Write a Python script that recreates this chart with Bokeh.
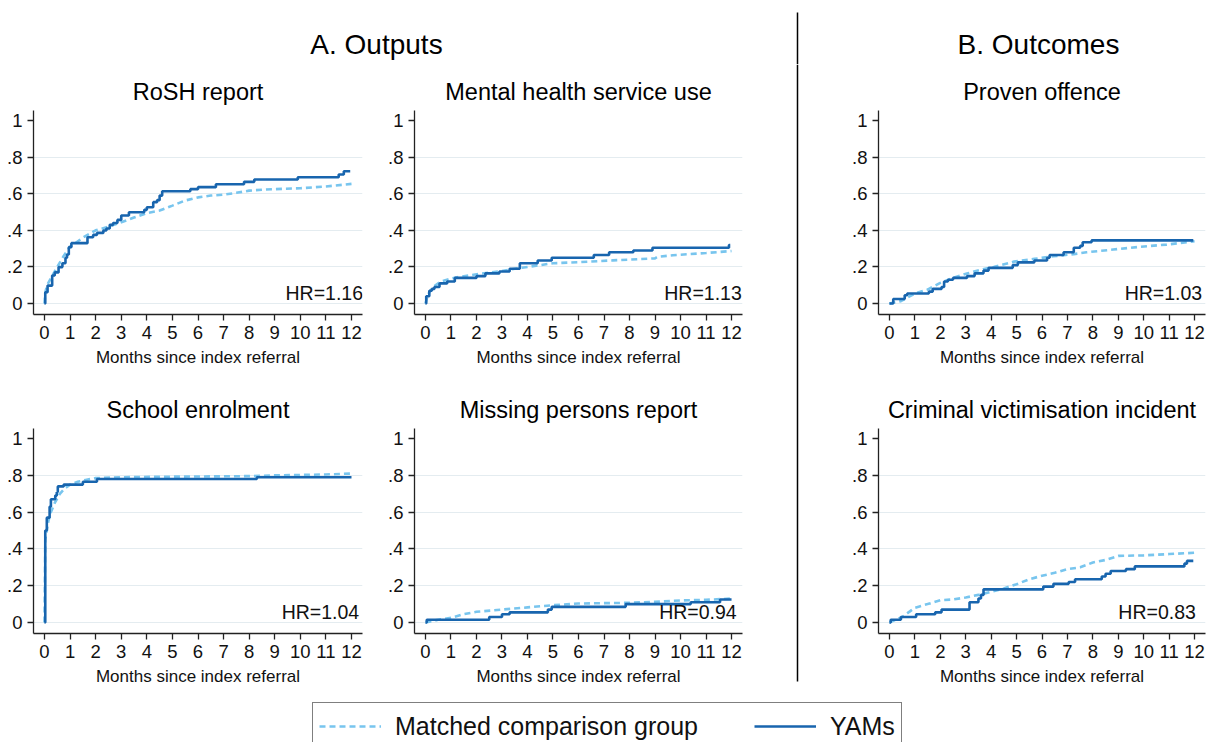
from bokeh.plotting import figure
from bokeh.layouts import column, row
from bokeh.models import Range1d, FixedTicker, Legend, LegendItem
from bokeh.core.properties import value
from bokeh.embed import file_html
from bokeh.resources import INLINE

# ---------------------------------------------------------------- data
SECTION_TITLES = ["A. Outputs", "B. Outcomes"]
PANEL_TITLES = ["RoSH report", "Mental health service use", "Proven offence",
                "School enrolment", "Missing persons report",
                "Criminal victimisation incident"]
HR_LABELS = ["HR=1.16", "HR=1.13", "HR=1.03", "HR=1.04", "HR=0.94", "HR=0.83"]
LEGEND_LABELS = ["Matched comparison group", "YAMs"]
X_AXIS_TITLE = "Months since index referral"
X_TICKS = list(range(0, 13))
Y_TICKS = [0, 0.2, 0.4, 0.6, 0.8, 1]
Y_TICK_LABELS = ["0", ".2", ".4", ".6", ".8", "1"]

# cumulative incidence, YAMs (step changes) and matched comparison group
ROSH_YAM_T = [0, 0.03, 0.12, 0.3, 0.4, 0.55, 0.7, 0.82, 0.88, 0.95, 1.05, 1.68, 1.9,
              2.05, 2.3, 2.42, 2.55, 2.68, 2.85, 3.0, 3.3, 3.9, 4.0, 4.25, 4.4, 4.5,
              4.6, 5.7, 6.0, 6.7, 7.8, 8.2, 9.9, 11.5, 11.7, 11.95]
ROSH_YAM_P = [0, 0.062, 0.098, 0.153, 0.17, 0.199, 0.22, 0.25, 0.268, 0.308, 0.33,
              0.362, 0.375, 0.386, 0.399, 0.41, 0.43, 0.44, 0.457, 0.481, 0.499,
              0.512, 0.526, 0.554, 0.565, 0.59, 0.614, 0.625, 0.636, 0.652, 0.665,
              0.678, 0.69, 0.705, 0.723, 0.723]
ROSH_CMP_T = [0, 0.03, 0.1, 0.3, 0.5, 0.75, 1.0, 1.5, 2.0, 2.5, 3.0, 3.5, 4.0, 4.5,
              5.0, 5.5, 6.0, 6.5, 7.0, 7.5, 8.0, 8.5, 9.0, 10.0, 11.0, 12.0]
ROSH_CMP_P = [0, 0.06, 0.1, 0.15, 0.2, 0.26, 0.31, 0.36, 0.4, 0.42, 0.444, 0.47,
              0.494, 0.508, 0.535, 0.563, 0.58, 0.59, 0.595, 0.605, 0.617, 0.622,
              0.625, 0.63, 0.64, 0.654]

MH_YAM_T = [0, 0.03, 0.15, 0.25, 0.35, 0.55, 0.85, 1.15, 2.0, 2.35, 2.9, 3.3, 3.7,
            4.4, 4.95, 6.6, 7.2, 8.15, 8.9, 11.9, 11.95]
MH_YAM_P = [0, 0.04, 0.07, 0.08, 0.09, 0.11, 0.12, 0.14, 0.15, 0.165, 0.175, 0.19,
            0.22, 0.235, 0.25, 0.265, 0.28, 0.29, 0.305, 0.32, 0.32]
MH_CMP_T = [0, 0.1, 0.3, 0.6, 1.0, 1.3, 2.1, 3.0, 3.5, 4.0, 5.0, 6.0, 7.35, 8.0,
            9.0, 9.1, 9.7, 11.0, 12.0]
MH_CMP_P = [0, 0.05, 0.09, 0.12, 0.137, 0.145, 0.162, 0.178, 0.19, 0.2, 0.22,
            0.226, 0.236, 0.24, 0.247, 0.255, 0.264, 0.276, 0.287]

OFF_YAM_T = [0, 0.15, 0.6, 0.7, 1.55, 1.7, 2.05, 2.15, 2.3, 2.5, 3.05, 3.35, 3.7,
             3.9, 4.85, 5.05, 5.7, 6.2, 6.3, 6.85, 7.25, 7.5, 7.6, 7.95, 11.95]
OFF_YAM_P = [0, 0.025, 0.045, 0.055, 0.065, 0.08, 0.09, 0.12, 0.13, 0.14, 0.15,
             0.165, 0.18, 0.195, 0.21, 0.225, 0.235, 0.25, 0.265, 0.28, 0.305,
             0.315, 0.335, 0.345, 0.345]
OFF_CMP_T = [0, 0.45, 1.0, 1.5, 2.0, 2.55, 3.05, 3.6, 4.1, 4.9, 5.7, 6.45, 7.25,
             7.75, 8.8, 9.85, 10.9, 12.0]
OFF_CMP_P = [0, 0.013, 0.055, 0.076, 0.113, 0.142, 0.164, 0.185, 0.2, 0.229, 0.244,
             0.258, 0.27, 0.28, 0.295, 0.31, 0.322, 0.34]

SCH_YAM_T = [0, 0.03, 0.09, 0.2, 0.25, 0.42, 0.48, 0.52, 0.75, 1.5, 2.05, 8.3, 12.0]
SCH_YAM_P = [0, 0.5, 0.57, 0.63, 0.67, 0.69, 0.71, 0.74, 0.75, 0.765, 0.78, 0.79,
             0.79]
SCH_CMP_T = [0, 0.03, 0.15, 0.22, 0.4, 0.6, 0.8, 1.0, 1.3, 1.6, 2.0, 3.0, 5.0, 8.0,
             9.0, 11.0, 12.0]
SCH_CMP_P = [0, 0.45, 0.55, 0.59, 0.65, 0.7, 0.73, 0.75, 0.765, 0.775, 0.785, 0.79,
             0.793, 0.796, 0.8, 0.805, 0.81]

MIS_YAM_T = [0, 0.05, 2.5, 3.0, 3.3, 4.8, 4.95, 7.85, 10.4, 11.55, 12.0]
MIS_YAM_P = [0, 0.015, 0.03, 0.045, 0.055, 0.07, 0.085, 0.1, 0.11, 0.125, 0.125]
MIS_CMP_T = [0, 0.5, 1.0, 1.5, 2.0, 3.0, 4.0, 5.0, 6.0, 7.0, 8.0, 9.0, 10.0, 11.0,
             12.0]
MIS_CMP_P = [0, 0.015, 0.025, 0.045, 0.058, 0.07, 0.082, 0.094, 0.103, 0.105,
             0.107, 0.112, 0.12, 0.123, 0.13]

VIC_YAM_T = [0, 0.05, 0.45, 1.05, 1.8, 2.05, 3.15, 3.5, 3.6, 3.7, 6.05, 6.45, 7.05,
             7.3, 8.35, 8.5, 8.7, 9.3, 9.65, 11.6, 11.7, 11.95]
VIC_YAM_P = [0, 0.015, 0.03, 0.045, 0.055, 0.07, 0.11, 0.13, 0.15, 0.18, 0.195,
             0.21, 0.22, 0.235, 0.25, 0.265, 0.28, 0.29, 0.305, 0.32, 0.335, 0.335]
VIC_CMP_T = [0, 0.5, 1.0, 1.5, 2.0, 2.5, 3.0, 3.5, 4.0, 4.5, 5.0, 5.5, 6.0, 6.5,
             7.0, 7.5, 8.0, 8.5, 9.0, 10.0, 11.0, 12.0]
VIC_CMP_P = [0, 0.03, 0.08, 0.1, 0.121, 0.125, 0.136, 0.15, 0.167, 0.185, 0.208,
             0.235, 0.254, 0.27, 0.29, 0.3, 0.326, 0.34, 0.362, 0.365, 0.372, 0.379]

SERIES = [
    (ROSH_YAM_T, ROSH_YAM_P, ROSH_CMP_T, ROSH_CMP_P),
    (MH_YAM_T, MH_YAM_P, MH_CMP_T, MH_CMP_P),
    (OFF_YAM_T, OFF_YAM_P, OFF_CMP_T, OFF_CMP_P),
    (SCH_YAM_T, SCH_YAM_P, SCH_CMP_T, SCH_CMP_P),
    (MIS_YAM_T, MIS_YAM_P, MIS_CMP_T, MIS_CMP_P),
    (VIC_YAM_T, VIC_YAM_P, VIC_CMP_T, VIC_CMP_P),
]

# ---------------------------------------------------------------- style
FONT = "Liberation Sans"
DARK = "#1865ae"
LIGHT = "#78c5ee"
AXIS_COLOR = "#222222"
GRID_COLOR = "#e4ecf0"
LINE_W = 2.6
DASH = "6 4"
HR_X = [12.45, 12.4, 12.3, 12.3, 12.2, 12.05]

# figure geometry: (width, height, border left, right, top, bottom)
GEOM = [
    (380, 318, 33, 18, 46, 68),
    (410, 318, 34, 48, 46, 68),
    (402, 318, 73, 2, 46, 68),
    (380, 310, 33, 18, 46, 59),
    (410, 310, 34, 48, 46, 59),
    (402, 310, 73, 2, 46, 59),
]


def make_panel(i):
    w, h, bl, br, bt, bb = GEOM[i]
    p = figure(width=w, height=h, output_backend="svg", toolbar_location=None,
               x_range=Range1d(-0.43, 12.43), y_range=Range1d(-0.06, 1.055),
               min_border_left=bl, min_border_right=br,
               min_border_top=bt, min_border_bottom=bb,
               background_fill_color="white", border_fill_color="white",
               outline_line_color=None)
    p.title.text = PANEL_TITLES[i]
    p.title.align = "center"
    p.title.text_font = FONT
    p.title.text_font_size = "23.5px"
    p.title.text_font_style = "normal"
    p.title.text_color = "black"
    p.title.standoff = 11

    for ax in (p.xaxis[0], p.yaxis[0]):
        ax.axis_line_color = AXIS_COLOR
        ax.axis_line_width = 1.3
        ax.major_tick_line_color = AXIS_COLOR
        ax.major_tick_line_width = 1.3
        ax.major_tick_out = 6
        ax.major_tick_in = 0
        ax.minor_tick_line_color = None
        ax.major_label_text_font = FONT
        ax.major_label_text_font_size = "18.5px"
        ax.major_label_text_color = "#111111"

    p.xaxis.ticker = FixedTicker(ticks=X_TICKS)
    p.xaxis.major_label_standoff = 5
    p.xaxis.axis_label = X_AXIS_TITLE
    p.xaxis.axis_label_text_font = FONT
    p.xaxis.axis_label_text_font_size = "17px"
    p.xaxis.axis_label_text_font_style = "normal"
    p.xaxis.axis_label_text_color = "#111111"
    p.xaxis.axis_label_standoff = 6

    p.yaxis.ticker = FixedTicker(ticks=Y_TICKS)
    p.yaxis.major_label_overrides = dict(zip(Y_TICKS, Y_TICK_LABELS))
    p.yaxis.major_label_standoff = 5

    p.xgrid.visible = False
    p.ygrid.ticker = FixedTicker(ticks=Y_TICKS[:-1])
    p.ygrid.grid_line_color = GRID_COLOR
    p.ygrid.grid_line_width = 1.2

    yt, yp, ct, cp = SERIES[i]
    r_cmp = p.line(ct, cp, line_color=LIGHT, line_width=LINE_W, line_dash=DASH)
    r_yam = p.step(yt, yp, mode="after", line_color=DARK, line_width=LINE_W)

    p.text(x=[HR_X[i]], y=[0.055], text=[HR_LABELS[i]], text_align="right",
           text_baseline="middle", text_font=value(FONT),
           text_font_size="19.5px", text_color="#111111")
    return p, r_cmp, r_yam


panels = [make_panel(i) for i in range(6)]
p1, p2, p3, p4, p5, p6 = [t[0] for t in panels]


def blank(width, height, xr, yr):
    f = figure(width=width, height=height, output_backend="svg",
               toolbar_location=None, x_range=Range1d(*xr), y_range=Range1d(*yr),
               min_border=0, x_axis_location=None, y_axis_location=None,
               outline_line_color=None, background_fill_color="white",
               border_fill_color="white")
    f.grid.visible = False
    return f


# section headings and the divider between the two groups
header = blank(1207, 64, (0, 1207), (64, 0))
header.text(x=[376, 1038], y=[44, 44], text=SECTION_TITLES, text_align="center",
            text_baseline="middle", text_font=value(FONT), text_font_size="28px",
            text_color="black")
header.segment(x0=[797], y0=[12], x1=[797], y1=[64], line_color="black",
               line_width=1.5)

sep = blank(15, 628, (790, 805), (692, 64))
sep.segment(x0=[797], y0=[64], x1=[797], y1=[681], line_color="black",
            line_width=1.5)

# shared legend; its sample renderers sit outside the visible range
leg_fig = blank(1207, 50, (0, 1), (0, 1))
lr_cmp = leg_fig.line([-5, -4], [-5, -5], line_color=LIGHT, line_width=LINE_W,
                      line_dash=DASH)
lr_yam = leg_fig.line([-5, -4], [-5, -5], line_color=DARK, line_width=LINE_W)
legend = Legend(items=[LegendItem(label=LEGEND_LABELS[0], renderers=[lr_cmp]),
                       LegendItem(label=LEGEND_LABELS[1], renderers=[lr_yam])],
                orientation="horizontal", location=(312, -8),
                label_text_font=FONT, label_text_font_size="25px",
                label_text_color="#111111", glyph_width=62, glyph_height=34,
                label_standoff=14, spacing=56, padding=6, margin=0,
                border_line_color="black", border_line_width=1.5,
                background_fill_color="white", background_fill_alpha=1.0)
leg_fig.add_layout(legend)

grid = row(column(row(p1, p2), row(p4, p5)), sep, column(p3, p6))
page = column(header, grid, leg_fig)

open("out.html", "w").write(file_html(page, INLINE))
